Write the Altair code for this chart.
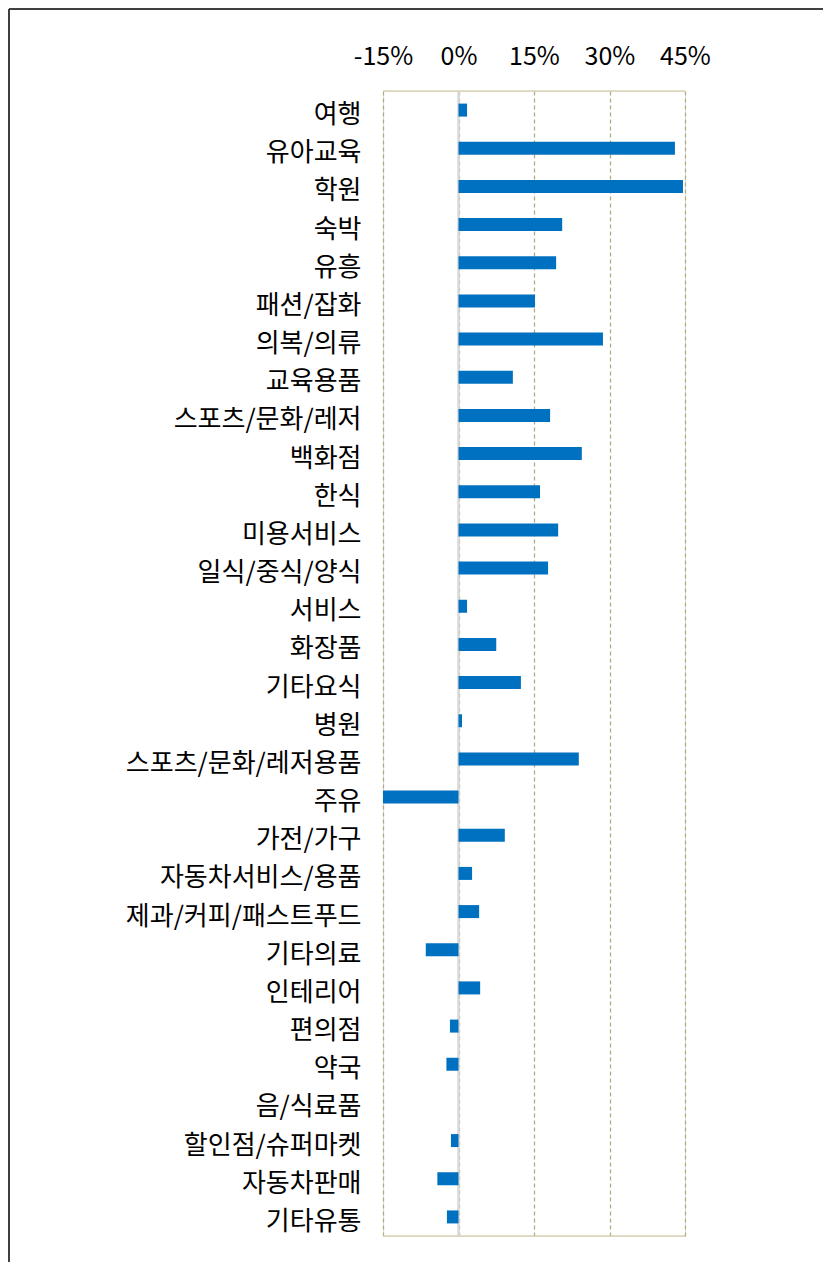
import altair as alt
import pandas as pd

categories = ["여행", "유아교육", "학원", "숙박", "유흥", "패션/잡화", "의복/의류", "교육용품",
              "스포츠/문화/레저", "백화점", "한식", "미용서비스", "일식/중식/양식", "서비스",
              "화장품", "기타요식", "병원", "스포츠/문화/레저용품", "주유", "가전/가구",
              "자동차서비스/용품", "제과/커피/패스트푸드", "기타의료", "인테리어", "편의점",
              "약국", "음/식료품", "할인점/슈퍼마켓", "자동차판매", "기타유통"]
values = [1.7, 43.0, 44.6, 20.6, 19.4, 15.2, 28.7, 10.8,
          18.2, 24.5, 16.2, 19.8, 17.8, 1.7,
          7.5, 12.4, 0.7, 23.9, -15.0, 9.2,
          2.7, 4.1, -6.5, 4.3, -1.7,
          -2.4, 0.0, -1.5, -4.2, -2.3]
ticks = [-15, 0, 15, 30, 45]

df = pd.DataFrame({"cat": categories, "val": [v / 100 for v in values]})

W, H = 302, 1145
PL, PT = 375, 83
FONT = "Noto Sans CJK KR"

xscale = alt.Scale(domain=[-0.15, 0.45], nice=False, zero=False)

bars = alt.Chart(df).mark_bar(color="#0070C0", size=13).encode(
    y=alt.Y("cat:N", sort=categories, title=None,
            scale=alt.Scale(paddingInner=0, paddingOuter=0),
            axis=alt.Axis(ticks=False, domain=False, labelFontSize=26, labelFont=FONT,
                          labelColor="#000000", labelPadding=22, labelLimit=400,
                          labelOffset=5)),
    x=alt.X("val:Q", scale=xscale, title=None,
            axis=alt.Axis(orient="top", values=[t / 100 for t in ticks],
                          labelExpr="round(datum.value * 100) + '%'",
                          labelFlush=False, labelOverlap=False,
                          labelFontSize=25, labelFont=FONT, labelColor="#000000",
                          labelPadding=22, ticks=False, domain=False,
                          grid=True, gridDash=[4, 3], gridColor="#b2ab7f", gridWidth=1.3)),
)

zero = alt.Chart(pd.DataFrame({"z": [0.0]})).mark_rule(color="#d9d9d9", strokeWidth=2.5).encode(
    x=alt.X("z:Q", scale=xscale)
)

top_line = alt.Chart(pd.DataFrame({"a": [0]})).mark_rule(color="#d8d3b6", strokeWidth=1.5).encode(
    x=alt.value(0), x2=alt.value(W), y=alt.value(0)
)
bottom_line = alt.Chart(pd.DataFrame({"a": [0]})).mark_rule(color="#d8d3b6", strokeWidth=1.5).encode(
    x=alt.value(0), x2=alt.value(W), y=alt.value(H)
)
frame_top = alt.Chart(pd.DataFrame({"a": [0]})).mark_rule(color="#404040", strokeWidth=2).encode(
    x=alt.value(-PL + 1), x2=alt.value(600), y=alt.value(-PT + 1)
)
frame_left = alt.Chart(pd.DataFrame({"a": [0]})).mark_rule(color="#404040", strokeWidth=2).encode(
    x=alt.value(-PL + 1), y=alt.value(-PT + 1), y2=alt.value(1300)
)

chart = alt.layer(top_line, bottom_line, zero, bars, frame_top, frame_left).properties(
    width=W, height=H,
    autosize=alt.AutoSizeParams(type="none"),
    padding={"left": PL, "top": PT, "right": 138, "bottom": 26},
).configure_view(stroke=None).configure(background="white")

chart.save("out.html", embed_options={"renderer": "svg", "actions": False})
